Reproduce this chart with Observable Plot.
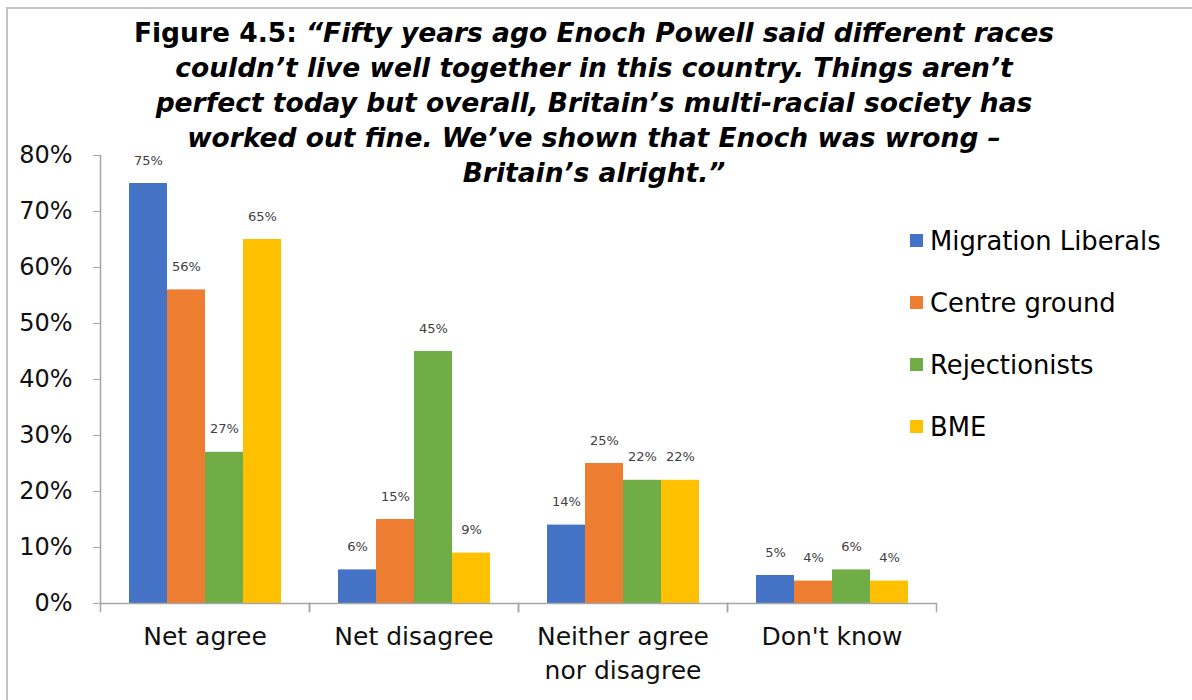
<!DOCTYPE html>
<html><head><meta charset="utf-8">
<script src="https://cdn.jsdelivr.net/npm/d3@7"></script>
<script src="https://cdn.jsdelivr.net/npm/@observablehq/plot@0.6"></script>
<style>
body{margin:0;background:#fff;font-family:"DejaVu Sans",sans-serif;}
#wrap{position:relative;width:1192px;height:700px;overflow:hidden;background:#fff;}
#chart{position:absolute;left:0;top:0;}
#border{position:absolute;left:6px;top:7px;right:-10px;bottom:-10px;border-top:2px solid #c4c4c4;border-left:2px solid #c4c4c4;pointer-events:none;}
#title{position:absolute;left:0;width:1188px;top:15px;text-align:center;font-weight:bold;font-size:26.5px;line-height:35px;color:#000;}
#title i{font-style:oblique}
#legend{position:absolute;left:910px;top:210px;}
.row{height:62px;line-height:62px;font-size:25.8px;color:#000;white-space:nowrap;}
.sw{display:inline-block;width:13px;height:13px;margin-right:7px;vertical-align:middle;position:relative;top:-2px;}
</style>
</head><body>
<div id="wrap">
  <div id="chart"></div>
  <div id="title"></div>
  <div id="legend"></div>
  <div id="border"></div>
</div>
<script>
const categories = ["Net agree", "Net disagree", "Neither agree nor disagree", "Don't know"];
const groups = ["Migration Liberals", "Centre ground", "Rejectionists", "BME"];
const colors = ["#4472C4", "#ED7D31", "#70AD47", "#FFC000"];
const migrationLiberals = [75, 6, 14, 5];
const centreGround = [56, 15, 25, 4];
const rejectionists = [27, 45, 22, 6];
const bme = [65, 9, 22, 4];
const yTicks = [0, 10, 20, 30, 40, 50, 60, 70, 80];
const titleLines = [
  ["Figure 4.5: ", "“Fifty years ago Enoch Powell said different races"],
  ["", "couldn’t live well together in this country. Things aren’t"],
  ["", "perfect today but overall, Britain’s multi-racial society has"],
  ["", "worked out fine. We’ve shown that Enoch was wrong –"],
  ["", "Britain’s alright.”"]
];

const series = [migrationLiberals, centreGround, rejectionists, bme];
const data = [];
categories.forEach((c, i) => groups.forEach((g, j) => data.push({category: c, group: g, value: series[j][i]})));

document.getElementById("title").innerHTML = titleLines.map(([a, b]) => a + "<i>" + b + "</i>").join("<br>");
document.getElementById("legend").innerHTML = groups.map((g, j) =>
  `<div class="row"><span class="sw" style="background:${colors[j]}"></span>${g}</div>`).join("");

const axisGray = "#a6a6a6";
const plotH = 700 - 155 - 97;
const chart = Plot.plot({
  width: 1192,
  height: 700,
  marginLeft: 98,
  marginRight: 255,
  marginTop: 155,
  marginBottom: 97,
  style: {fontFamily: "DejaVu Sans", background: "transparent", overflow: "visible"},
  fx: {domain: categories, padding: 0, label: null, axis: null},
  x: {domain: groups, paddingInner: 0, paddingOuter: 0.75, axis: null},
  y: {domain: [0, 80], axis: null},
  color: {domain: groups, range: colors},
  marks: [
    Plot.barY(data, {fx: "category", x: "group", y: "value", fill: "group"}),
    Plot.ruleY([0], {stroke: axisGray, strokeWidth: 1.5}),
    Plot.frame({anchor: "left", insetTop: plotH, insetBottom: -8, stroke: axisGray, strokeWidth: 1.5}),
    Plot.frame({anchor: "right", insetTop: plotH, insetBottom: -8, stroke: axisGray, strokeWidth: 1.5}),
    Plot.frame({anchor: "left", fx: [categories[0]], stroke: axisGray, strokeWidth: 1.5}),
    Plot.text(data, {fx: "category", x: "group", y: "value", text: d => d.value + "%", dy: -23, fontSize: 13, fill: "#404040"}),
    Plot.axisY({ticks: yTicks, tickFormat: d => d + "%", tickSize: 7, tickPadding: 21, fontSize: 24, stroke: axisGray, fill: "#111", label: null}),
    Plot.axisFx({anchor: "bottom", tickSize: 0, tickPadding: 18, fontSize: 25, lineHeight: 1.35, fill: "#111", label: null,
      tickFormat: d => d.replace("agree nor", "agree\nnor")})
  ]
});
document.getElementById("chart").appendChild(chart);
</script>
</body></html>
